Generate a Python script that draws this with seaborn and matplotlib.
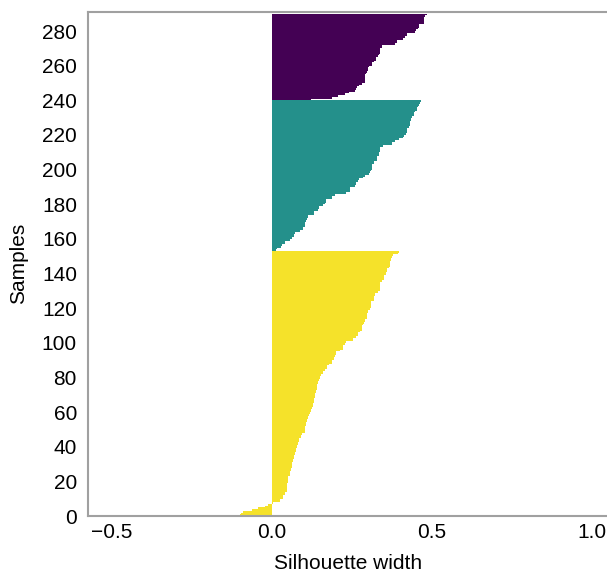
import numpy as np
import pandas as pd
import matplotlib
matplotlib.use("Agg")
import matplotlib.pyplot as plt
import seaborn as sns

# Silhouette widths per cluster, sorted ascending within each cluster
cluster_1 = [
    -0.100, -0.097, -0.090, -0.060, -0.044, -0.020, -0.0125, 0.004, 0.025, 0.025,
    0.034, 0.034, 0.041, 0.041, 0.047, 0.047, 0.047, 0.047, 0.047, 0.050,
    0.050, 0.050, 0.050, 0.056, 0.056, 0.056, 0.059, 0.059, 0.0625, 0.0625,
    0.0625, 0.066, 0.066, 0.069, 0.069, 0.072, 0.072, 0.075, 0.075, 0.078,
    0.078, 0.081, 0.081, 0.084, 0.084, 0.091, 0.091, 0.094, 0.103, 0.103,
    0.103, 0.103, 0.106, 0.106, 0.109, 0.109, 0.1125, 0.1125, 0.116, 0.119,
    0.122, 0.122, 0.125, 0.128, 0.128, 0.131, 0.131, 0.131, 0.134, 0.134,
    0.134, 0.1375, 0.1375, 0.141, 0.141, 0.141, 0.144, 0.144, 0.147, 0.150,
    0.150, 0.153, 0.159, 0.159, 0.166, 0.172, 0.172, 0.178, 0.1875, 0.1875,
    0.194, 0.194, 0.197, 0.200, 0.200, 0.2125, 0.222, 0.222, 0.222, 0.228,
    0.231, 0.253, 0.253, 0.2625, 0.269, 0.269, 0.275, 0.281, 0.281, 0.281,
    0.284, 0.2875, 0.291, 0.291, 0.297, 0.297, 0.297, 0.300, 0.300, 0.306,
    0.309, 0.309, 0.309, 0.309, 0.319, 0.319, 0.319, 0.322, 0.322, 0.331,
    0.3375, 0.3375, 0.3375, 0.3375, 0.3375, 0.344, 0.350, 0.350, 0.350, 0.356,
    0.356, 0.359, 0.359, 0.366, 0.369, 0.369, 0.369, 0.372, 0.372, 0.376,
    0.378, 0.394, 0.397,
]
cluster_2 = [
    0.0125, 0.016, 0.028, 0.031, 0.041, 0.041, 0.056, 0.0625, 0.069, 0.069,
    0.072, 0.0875, 0.097, 0.097, 0.103, 0.103, 0.103, 0.106, 0.109, 0.1125,
    0.1125, 0.131, 0.131, 0.144, 0.147, 0.147, 0.159, 0.166, 0.169, 0.169,
    0.1875, 0.1875, 0.197, 0.231, 0.244, 0.244, 0.244, 0.259, 0.2625, 0.2625,
    0.269, 0.272, 0.284, 0.291, 0.303, 0.306, 0.309, 0.3125, 0.3125, 0.3125,
    0.319, 0.319, 0.328, 0.328, 0.328, 0.334, 0.334, 0.3375, 0.3375, 0.3375,
    0.347, 0.375, 0.375, 0.384, 0.397, 0.409, 0.4125, 0.419, 0.422, 0.422,
    0.422, 0.428, 0.431, 0.431, 0.431, 0.434, 0.434, 0.4375, 0.444, 0.444,
    0.447, 0.453, 0.453, 0.456, 0.459, 0.4625, 0.466,
]
cluster_3 = [
    0.122, 0.1875, 0.206, 0.228, 0.241, 0.259, 0.2625, 0.266, 0.272, 0.281,
    0.291, 0.291, 0.291, 0.291, 0.291, 0.294, 0.297, 0.300, 0.300, 0.303,
    0.3125, 0.3125, 0.319, 0.325, 0.325, 0.331, 0.334, 0.3375, 0.3375, 0.3375,
    0.344, 0.344, 0.384, 0.390, 0.390, 0.409, 0.416, 0.422, 0.422, 0.447,
    0.450, 0.456, 0.459, 0.459, 0.475, 0.475, 0.475, 0.475, 0.478, 0.484,
]
cluster_names = ["1", "2", "3"]
cluster_colors = ["#F5E22A", "#24908B", "#440154"]
y_ticks = list(range(0, 281, 20))
x_ticks = [-0.5, 0.0, 0.5, 1.0]

widths = cluster_1 + cluster_2 + cluster_3
labels = (["1"] * len(cluster_1) + ["2"] * len(cluster_2) + ["3"] * len(cluster_3))
n = len(widths)
df = pd.DataFrame({
    "width": widths,
    "sample": np.arange(n) + 0.5,
    "cluster": labels,
})

sns.set_theme(style="white")
plt.rcParams["font.family"] = ["Liberation Sans", "DejaVu Sans"]

fig = plt.figure(figsize=(6.07, 5.75), dpi=100)
ax = fig.add_axes([0.145, 0.1026, 0.857, 0.8774])

sns.barplot(
    data=df, x="width", y="sample", hue="cluster", orient="h",
    native_scale=True, dodge=False, width=1.0,
    palette=dict(zip(cluster_names, cluster_colors)),
    linewidth=0, edgecolor="none", saturation=1, legend=False, ax=ax,
)

ax.set_xlim(-0.573, 1.05)
ax.set_ylim(0, 291.3)
ax.set_xticks(x_ticks)
ax.set_xticklabels(["\u22120.5", "0.0", "0.5", "1.0"])
ax.set_yticks(y_ticks)
ax.set_yticklabels([str(t) for t in y_ticks])
ax.tick_params(axis="both", length=0, labelsize=15, colors="black")
ax.tick_params(axis="y", pad=8)
ax.tick_params(axis="x", pad=5)
ax.set_xlabel("Silhouette width", fontsize=15, labelpad=9, color="black")
ax.set_ylabel("Samples", fontsize=15, labelpad=10, color="black")

for side in ["left", "bottom", "top"]:
    ax.spines[side].set_visible(True)
    ax.spines[side].set_color("#A0A0A0")
    ax.spines[side].set_linewidth(1.5)
ax.spines["right"].set_visible(False)

fig.savefig("out.png", dpi=100, facecolor="white")
